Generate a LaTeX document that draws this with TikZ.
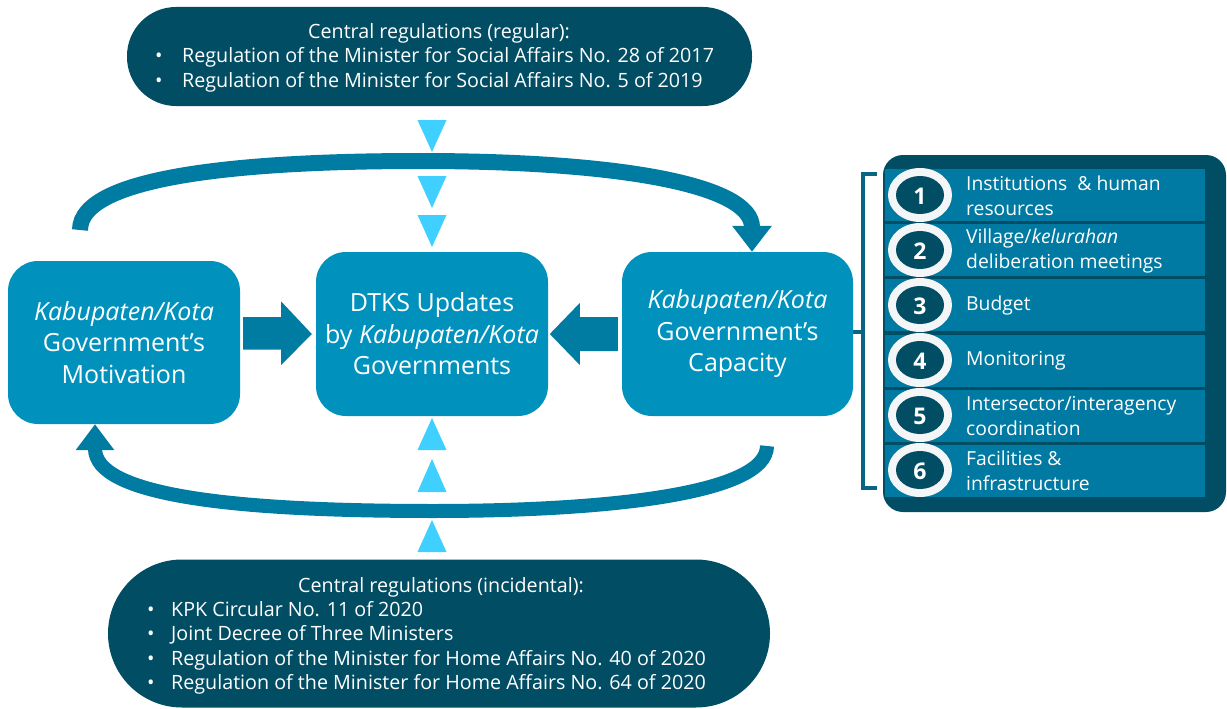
\documentclass[tikz,border=0pt]{standalone}
\usepackage{fontspec}
\setmainfont{Open Sans}
\usetikzlibrary{arrows.meta,calc}
\definecolor{navy}{HTML}{004D64}
\definecolor{boxblue}{HTML}{0092BD}
\definecolor{arrblue}{HTML}{007BA1}
\definecolor{cyanT}{HTML}{40D0FF}
\definecolor{rowblue}{HTML}{007AA2}
\definecolor{ringw}{HTML}{F3F5F7}
\definecolor{brk}{HTML}{0A6585}
\tikzset{
  mainbox/.style={fill=boxblue, rounded corners=30pt, minimum width=232pt, minimum height=163pt,
    text=white, align=center, font=\fontsize{25}{31.5}\selectfont, inner sep=0pt},
  regbox/.style={fill=navy, inner sep=0pt},
  regtext/.style={text=white, inner sep=0pt, font=\fontsize{19.7}{24.5}\selectfont},
  blockarrow/.style={fill=arrblue},
  looparrow/.style={draw=arrblue},
  tri/.style={fill=cyanT},
  rowbox/.style={fill=rowblue},
  rowtext/.style={text=white, inner sep=0pt, align=left, anchor=west, font=\fontsize{19.3}{25}\selectfont},
  numtext/.style={text=white, inner sep=0pt, font=\fontsize{23}{23}\selectfont\bfseries},
}
\begin{document}
\begin{tikzpicture}[x=1pt,y=-1pt]
\useasboundingbox (0,0) rectangle (1227,709);

% regulation boxes
\node[regbox, rounded corners=49pt, minimum width=625pt, minimum height=99pt] (top) at (439.5,56.5) {};
\node[regtext] (tophead) at (439,33) {Central regulations (regular):};
\node[regtext, align=left, anchor=west] (toplist) at (155,70)
  {\makebox[27pt][l]{•}Regulation of the Minister for Social Affairs No. 28 of 2017\\
   \makebox[27pt][l]{•}Regulation of the Minister for Social Affairs No. 5 of 2019};

\node[regbox, rounded corners=74pt, minimum width=662pt, minimum height=148pt] (bot) at (439,633.5) {};
\node[regtext] (bothead) at (441,587) {Central regulations (incidental):};
\node[regtext, align=left, anchor=west] (botlist) at (147,648)
  {\makebox[24pt][l]{•}KPK Circular No. 11 of 2020\\
   \makebox[24pt][l]{•}Joint Decree of Three Ministers\\
   \makebox[24pt][l]{•}Regulation of the Minister for Home Affairs No. 40 of 2020\\
   \makebox[24pt][l]{•}Regulation of the Minister for Home Affairs No. 64 of 2020};

% main boxes
\node[mainbox] (mot) at (124,342.5) {\textit{Kabupaten/Kota}\\Government’s\\Motivation};
\node[mainbox, minimum height=164pt] (dtks) at (432,334) {DTKS Updates\\by \textit{Kabupaten/Kota}\\Governments};
\node[mainbox, minimum height=164pt, minimum width=231pt] (cap) at (737.5,334) {\textit{Kabupaten/Kota}\\Government’s\\Capacity};

% block arrows
\fill[blockarrow] ($(mot.east)+(3,-25.5)$) -- ++(38,0) -- ++(0,-15.5) -- ($(dtks.west)+(-4,0)$)
  -- ($(mot.east)+(41,22.5)$) -- ++(0,-15.5) -- ++(-38,0) -- cycle;
\fill[blockarrow] ($(cap.west)+(-4,-17)$) -- ++(-38,0) -- ++(0,-14) -- ($(dtks.west)+(234,0)$)
  -- ($(cap.west)+(-42,31)$) -- ++(0,-14) -- ++(38,0) -- cycle;

% loop arrows
\coordinate (ta) at (80,230);
\draw[looparrow, line width=16pt, -{Triangle[length=26pt,width=38pt]}]
  (ta) .. controls (80,175) and (250,161) .. (420,161)
       .. controls (620,161) and (752,185) .. ($(cap.north)+(14.5,0)$);
\coordinate (ba) at (767,446);
\draw[looparrow, line width=14pt, -{Triangle[length=26pt,width=37pt]}]
  (ba) .. controls (767,495) and (600,511) .. (433,511)
       .. controls (230,511) and (95,495) .. ($(mot.south)+(-29,0)$);

% cyan triangles
\foreach \ya/\yb in {120/152,176/208,215/247}{
  \fill[tri] (417.5,\ya) -- (446.5,\ya) -- (432,\yb) -- cycle;}
\foreach \ya/\yb in {418/450,459/492,520/552}{
  \fill[tri] (417.5,\yb) -- (446.5,\yb) -- (432,\ya) -- cycle;}

% right panel
\fill[navy, rounded corners=20pt] (883,155) rectangle (1226,512);
\foreach \i in {0,...,5}{
  \fill[rowbox] (885,{169+55.2*\i}) rectangle (1205,{221+55.2*\i});}
\foreach \i/\n in {0/1,1/2,2/3,3/4,4/5,5/6}{
  \fill[ringw] (920,{195+55*\i}) ellipse [x radius=32, y radius=27];
  \fill[navy] (920,{195+55*\i}) ellipse [x radius=24, y radius=19];
  \node[numtext] (n\n) at (920,{196+55*\i}) {\n};}
\node[rowtext] (r1) at (966,195.5) {Institutions \ \& human\\resources};
\node[rowtext] (r2) at (966,250.5) {Village/\textit{kelurahan}\\deliberation meetings};
\node[rowtext] (r3) at (966,305.5) {Budget};
\node[rowtext] (r4) at (966,360.5) {Monitoring};
\node[rowtext] (r5) at (966,416) {Intersector/interagency\\coordination};
\node[rowtext] (r6) at (966,471) {Facilities \&\\infrastructure};

% bracket
\draw[brk, line width=4pt] (877,174) -- (863,174) -- (863,488) -- (877,488);
\draw[brk, line width=4pt] (863,332) -- (cap.east |- 0,332);
\end{tikzpicture}
\end{document}
